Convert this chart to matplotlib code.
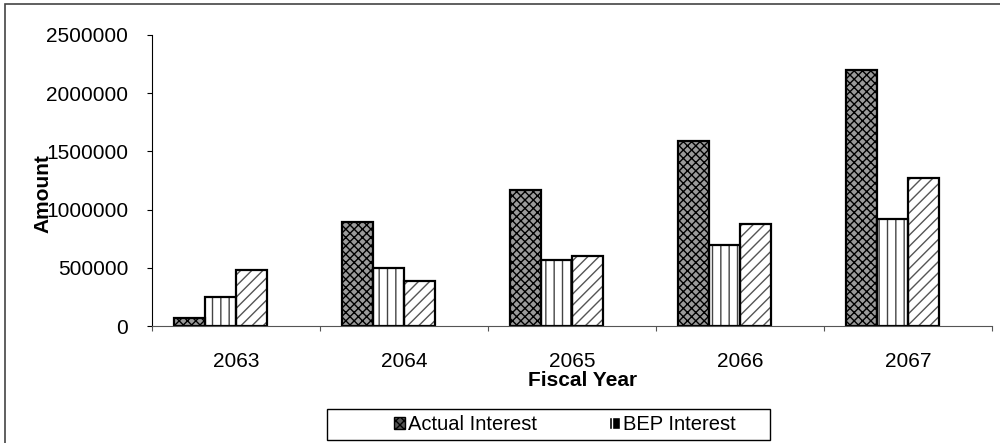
import numpy as np
import matplotlib.pyplot as plt
from matplotlib.patches import Rectangle, Patch

plt.rcParams['font.family'] = ['Liberation Sans', 'DejaVu Sans']
plt.rcParams['hatch.linewidth'] = 1.0

# data
years = ['2063', '2064', '2065', '2066', '2067']
actual_interest = [70000, 890000, 1170000, 1590000, 2200000]
bep_interest = [250000, 500000, 570000, 700000, 920000]
third_series = [480000, 390000, 600000, 880000, 1275000]

fig = plt.figure(figsize=(10, 4.43), dpi=100)
ax = fig.add_axes([0.152, 0.264, 0.840, 0.657])

x = np.arange(len(years))
w = 0.185  # 4 slots per category, the last one is empty

# pattern layer, then the black outline on top
ax.bar(x - 1.5 * w, actual_interest, w, color='#9a9a9a', edgecolor='black',
       hatch='xxxx', linewidth=0)
ax.bar(x - 0.5 * w, bep_interest, w, color='white', edgecolor='#444444',
       hatch='||', linewidth=0)
ax.bar(x + 0.5 * w, third_series, w, color='white', edgecolor='#555555',
       hatch='///', linewidth=0)
for off, vals in [(-1.5, actual_interest), (-0.5, bep_interest), (0.5, third_series)]:
    ax.bar(x + off * w, vals, w, fill=False, edgecolor='black', linewidth=1.6)

ax.set_xlim(-0.5, len(years) - 0.5)
ax.set_ylim(0, 2500000)
ticks = np.arange(0, 2500001, 500000)
ax.set_yticks(ticks)
ax.set_yticklabels([str(v) for v in ticks], fontsize=15)

# category boundaries as ticks, labels in the middle
ax.set_xticks(np.arange(-0.5, len(years)), labels=[''] * (len(years) + 1))
ax.set_xticks(x, labels=years, minor=True)
ax.tick_params(axis='x', which='minor', length=0, labelsize=15, pad=19)
ax.tick_params(axis='x', which='major', length=3.6, color='#555555')
ax.tick_params(axis='y', length=3.6, color='black', pad=13.5)

for s in ['top', 'right']:
    ax.spines[s].set_visible(False)
ax.spines['left'].set_color('black')
ax.spines['bottom'].set_color('#555555')

ax.set_xlabel('Fiscal Year', fontsize=15, fontweight='bold', labelpad=0)
ax.xaxis.label.set_x(0.512)
fig.text(0.043, 1 - 194 / 443, 'Amount', rotation=90, ha='center', va='center',
         fontsize=15, fontweight='bold')

# outer chart frame
fig.add_artist(Rectangle((0.005, -0.1), 1.2, 1.091, transform=fig.transFigure,
                         fill=False, edgecolor='#444444', linewidth=1.2))
# legend box
fig.add_artist(Rectangle((0.327, 0.0068), 0.443, 0.070, transform=fig.transFigure,
                         fill=False, edgecolor='black', linewidth=1.0))
h1 = Patch(facecolor='#555555', edgecolor='black', hatch='xxxx', label='Actual Interest')
h2 = Patch(facecolor='black', edgecolor='white', hatch='||', label='BEP Interest')
fig.legend(handles=[h1, h2], loc='center', bbox_to_anchor=(0.565, 0.042), ncol=2,
           frameon=False, fontsize=14.5, handlelength=0.55, handleheight=0.55,
           handletextpad=0.15, columnspacing=3.6)

fig.savefig('out.png', dpi=100)
